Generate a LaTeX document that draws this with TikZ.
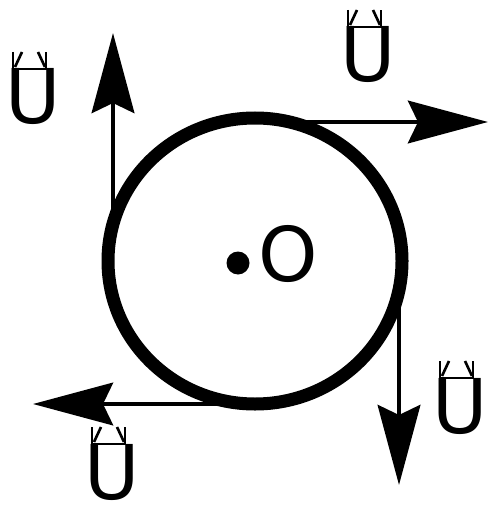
\documentclass[tikz,border=0pt]{standalone}
\usepackage{fontspec}
\setmainfont{DejaVu Sans}
\usetikzlibrary{arrows.meta, calc}
\tikzset{
	veltext/.style={font=\fontsize{43}{43}\selectfont, inner sep=0pt, anchor=base}
}
\tikzset{
	velarrow/.style={line width=2.8pt, -{Stealth[length=1.6cm, width=0.85cm, inset=2mm]}}
}
% small mark over a velocity letter
\newcommand{\velmark}[1]{%
  \draw[line width=1.5pt] ([shift={(-20,-72)}]#1.base) -- ([shift={(-20,-55)}]#1.base)
    -- ([shift={(13,-55)}]#1.base) -- ([shift={(13,-72)}]#1.base);
  \draw[line width=1.5pt] ([shift={(-18,-57)}]#1.base) -- ([shift={(-11,-72)}]#1.base);
  \draw[line width=1.5pt] ([shift={(5,-72)}]#1.base) -- ([shift={(12,-57)}]#1.base);
}

\begin{document}
\begin{tikzpicture}[x=0.02cm, y=-0.02cm]
      \useasboundingbox (0,0) rectangle (489,513);
      % wheel
      \draw[line width=7.4pt] (255,261) ellipse [x radius=147, y radius=143];
      \fill (238,263) circle [radius=11.5];
      \node[veltext] (centre) at (288,281) {O};
      % tangent points and arrow tips
      \coordinate (leftstart) at (113,225);
      \coordinate (lefttip) at (113,33);
      \coordinate (topstart) at (290,122);
      \coordinate (toptip) at (488,122);
      \coordinate (rightstart) at (399,290);
      \coordinate (righttip) at (399,485);
      \coordinate (bottomstart) at (240,404);
      \coordinate (bottomtip) at (33,404);
      % velocity arrows
      \draw[velarrow] (leftstart) -- (lefttip);
      \draw[velarrow] (topstart) -- (toptip);
      \draw[velarrow] (rightstart) -- (righttip);
      \draw[velarrow] (bottomstart) -- (bottomtip);
      % labels
      \node[veltext] (uleft) at (33,124) {U};
      \node[veltext] (utop) at (368,82) {U};
      \node[veltext] (uright) at (460,433) {U};
      \node[veltext] (ubottom) at (112,499) {U};
      \velmark{uleft}
      \velmark{utop}
      \velmark{uright}
      \velmark{ubottom}
    \end{tikzpicture}
\end{document}
